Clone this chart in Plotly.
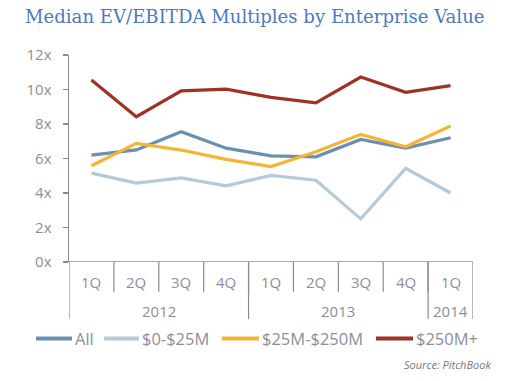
import plotly.graph_objects as go

quarters = ["1Q", "2Q", "3Q", "4Q", "1Q", "2Q", "3Q", "4Q", "1Q"]
years = ["2012", "2013", "2014"]
year_spans = [4, 4, 1]

series_names = ["All", "$0-$25M", "$25M-$250M", "$250M+"]
all_vals = [6.2, 6.5, 7.55, 6.6, 6.15, 6.1, 7.1, 6.6, 7.2]
small_vals = [5.15, 4.57, 4.88, 4.41, 5.02, 4.74, 2.5, 5.43, 4.0]
mid_vals = [5.58, 6.88, 6.49, 5.95, 5.53, 6.39, 7.4, 6.68, 7.88]
large_vals = [10.55, 8.42, 9.92, 10.02, 9.54, 9.23, 10.72, 9.84, 10.22]
colors = ["#6b8fae", "#b5cad9", "#f2b535", "#9e3325"]

y_ticks = [0, 2, 4, 6, 8, 10, 12]
y_labels = [f"{v}x" for v in y_ticks]

gray = "#8a8a8a"
label_color = "#8e8e98"
font_fam = "'Open Sans', Lato, sans-serif"

W, H = 510, 381
L, R, T, B = 69, 473, 55, 262.3
PW, PH = R - L, B - T


def px_x(p):
    return (p - L) / PW


def px_y(p):
    return (B - p) / PH


x_idx = list(range(len(quarters)))
fig = go.Figure()
for name, vals, c in zip(series_names, [all_vals, small_vals, mid_vals, large_vals], colors):
    fig.add_trace(go.Scatter(x=x_idx, y=vals, mode="lines", name=name,
                             line=dict(color=c, width=3.2), showlegend=False,
                             hoverinfo="skip"))

shapes = []
annotations = []
# quarter dividers
for i in range(1, len(quarters)):
    shapes.append(dict(type="line", xref="x", yref="paper", x0=i - 0.5, x1=i - 0.5,
                       y0=0, y1=px_y(292), line=dict(color=gray, width=1.2)))
# year dividers
pos = -0.5
bounds = [pos]
for s in year_spans:
    pos += s
    bounds.append(pos)
for b in bounds:
    shapes.append(dict(type="line", xref="x", yref="paper", x0=b, x1=b,
                       y0=0, y1=px_y(319.5), line=dict(color=gray, width=1.2)))
for i, q in enumerate(quarters):
    annotations.append(dict(x=i, y=px_y(282), xref="x", yref="paper", text=q, showarrow=False,
                            yanchor="middle",
                            font=dict(size=15, color=label_color, family=font_fam)))
for yr, a, b in zip(years, bounds[:-1], bounds[1:]):
    annotations.append(dict(x=(a + b) / 2, y=px_y(311), xref="x", yref="paper", text=yr,
                            showarrow=False, yanchor="middle",
                            font=dict(size=15, color=label_color, family=font_fam)))

# manual legend
legend_pos = [(36, 72), (104, 139), (222, 259), (376, 413)]
ly = 339
for name, c, (a, b) in zip(series_names, colors, legend_pos):
    shapes.append(dict(type="line", xref="paper", yref="paper", x0=px_x(a), x1=px_x(b),
                       y0=px_y(ly), y1=px_y(ly), line=dict(color=c, width=4)))
    annotations.append(dict(x=px_x(b + 1), y=px_y(ly), xref="paper", yref="paper", text=name,
                            showarrow=False, xanchor="left", yanchor="middle",
                            font=dict(size=16.5, color=label_color, family=font_fam)))

annotations.append(dict(x=px_x(493), y=px_y(365), xref="paper", yref="paper",
                        text="<i>Source: PitchBook</i>",
                        showarrow=False, xanchor="right", yanchor="middle",
                        font=dict(size=11, color="#777777", family=font_fam)))

fig.update_layout(
    width=W, height=H,
    margin=dict(l=L, r=W - R, t=T, b=H - B, autoexpand=False),
    paper_bgcolor="white", plot_bgcolor="white",
    hovermode=False,
    title=dict(text="Median EV/EBITDA Multiples by Enterprise Value",
               x=25 / W, xanchor="left",
               y=1 - 17 / H, yanchor="middle",
               font=dict(size=18.1, color="#4b79c0", family="'DejaVu Serif', serif")),
    xaxis=dict(range=[-0.5, len(quarters) - 0.5], showticklabels=False, showgrid=False,
               zeroline=False, showline=False, ticks=""),
    yaxis=dict(range=[0, 12], tickvals=y_ticks, ticktext=y_labels, showgrid=False,
               zeroline=False, showline=True, linecolor=gray, linewidth=1.5,
               ticks="outside", ticklen=5, tickcolor=gray, tickwidth=1.5,
               ticklabelstandoff=8,
               tickfont=dict(size=15, color=label_color, family=font_fam)),
    showlegend=False,
    shapes=shapes + [dict(type="line", xref="paper", yref="y", x0=0, x1=1, y0=0, y1=0,
                          line=dict(color=gray, width=1.5))],
    annotations=annotations,
)

fig.write_html("out.html", config={"displayModeBar": False, "staticPlot": True},
               post_script="document.body.style.margin='0';document.body.style.overflow='hidden';")
